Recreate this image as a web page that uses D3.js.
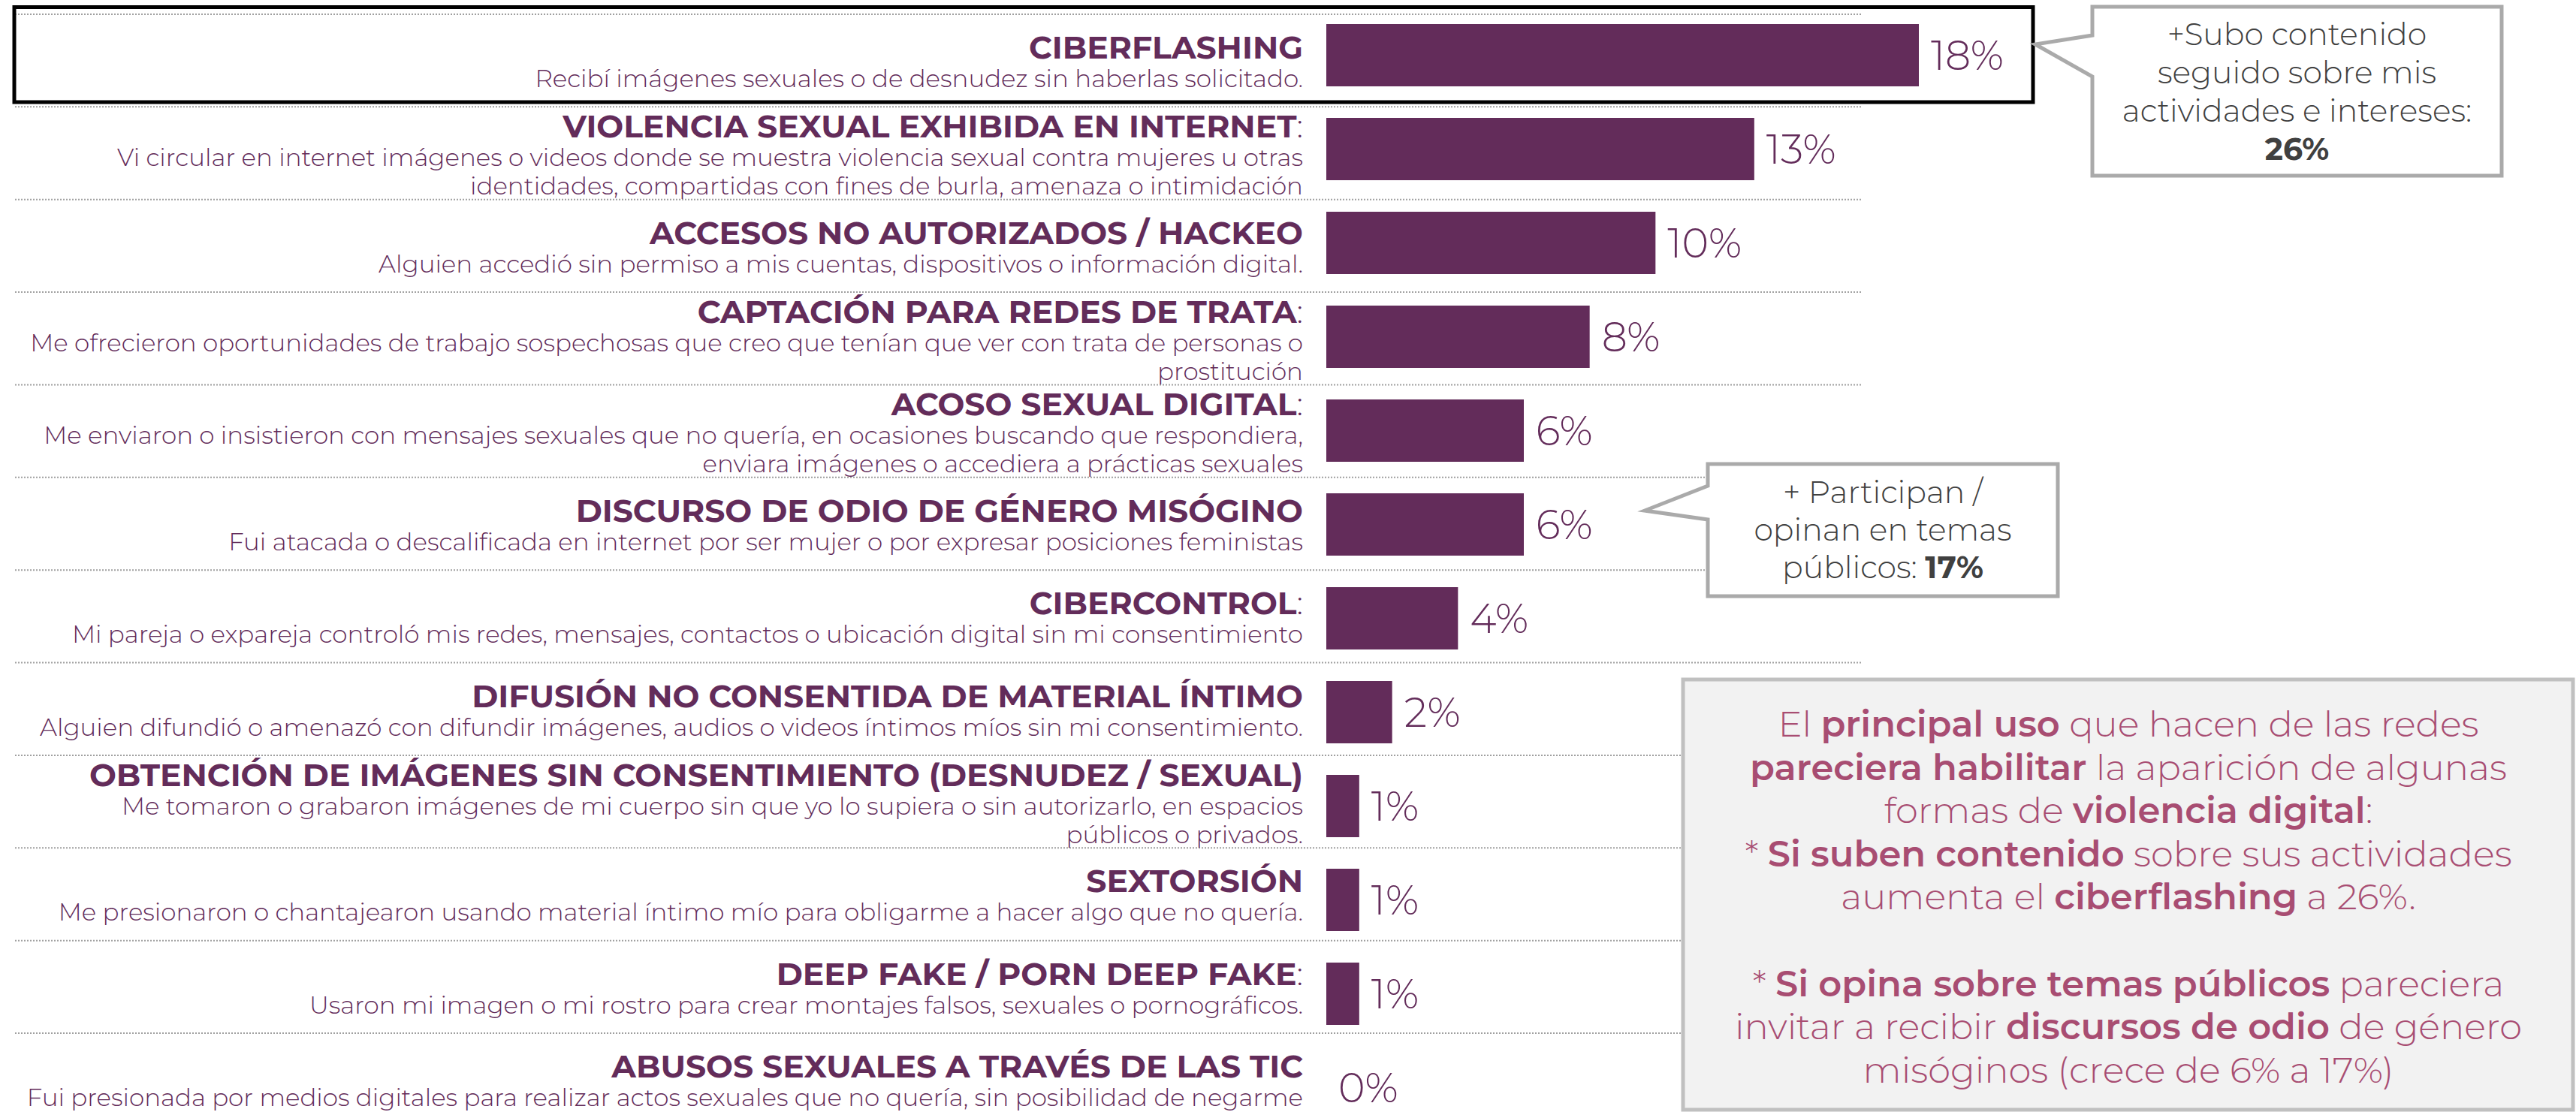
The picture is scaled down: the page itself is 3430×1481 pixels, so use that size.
<!DOCTYPE html>
<html>
<head>
<meta charset="utf-8">
<script src="https://cdn.jsdelivr.net/npm/d3@7"></script>
<style>
  html, body { margin: 0; padding: 0; background: #fff; }
  svg { display: block; font-family: Montserrat, Inter, "Open Sans", sans-serif; }
</style>
</head>
<body>
<svg id="chart" width="3430" height="1481"></svg>
<script>
// categories (title ending in ":" gets a light colon)
var categories = [
  "CIBERFLASHING",
  "VIOLENCIA SEXUAL EXHIBIDA EN INTERNET:",
  "ACCESOS NO AUTORIZADOS / HACKEO",
  "CAPTACIÓN PARA REDES DE TRATA:",
  "ACOSO SEXUAL DIGITAL:",
  "DISCURSO DE ODIO DE GÉNERO MISÓGINO",
  "CIBERCONTROL:",
  "DIFUSIÓN NO CONSENTIDA DE MATERIAL ÍNTIMO",
  "OBTENCIÓN DE IMÁGENES SIN CONSENTIMIENTO (DESNUDEZ / SEXUAL)",
  "SEXTORSIÓN",
  "DEEP FAKE / PORN DEEP FAKE:",
  "ABUSOS SEXUALES A TRAVÉS DE LAS TIC"
];

var descriptions = [
  ["Recibí imágenes sexuales o de desnudez sin haberlas solicitado."],
  ["Vi circular en internet imágenes o videos donde se muestra violencia sexual contra mujeres u otras",
   "identidades, compartidas con fines de burla, amenaza o intimidación"],
  ["Alguien accedió sin permiso a mis cuentas, dispositivos o información digital."],
  ["Me ofrecieron oportunidades de trabajo sospechosas que creo que tenían que ver con trata de personas o",
   "prostitución"],
  ["Me enviaron o insistieron con mensajes sexuales que no quería, en ocasiones buscando que respondiera,",
   "enviara imágenes o accediera a prácticas sexuales"],
  ["Fui atacada o descalificada en internet por ser mujer o por expresar posiciones feministas"],
  ["Mi pareja o expareja controló mis redes, mensajes, contactos o ubicación digital sin mi consentimiento"],
  ["Alguien difundió o amenazó con difundir imágenes, audios o videos íntimos míos sin mi consentimiento."],
  ["Me tomaron o grabaron imágenes de mi cuerpo sin que yo lo supiera o sin autorizarlo, en espacios",
   "públicos o privados."],
  ["Me presionaron o chantajearon usando material íntimo mío para obligarme a hacer algo que no quería."],
  ["Usaron mi imagen o mi rostro para crear montajes falsos, sexuales o pornográficos."],
  ["Fui presionada por medios digitales para realizar actos sexuales que no quería, sin posibilidad de negarme"]
];

var values = [18, 13, 10, 8, 6, 6, 4, 2, 1, 1, 1, 0];

var calloutContent = ["+Subo contenido", "seguido sobre mis", "actividades e intereses:", "**26%**"];
var calloutPublic = ["+ Participan /", "opinan en temas", "públicos: **17%**"];

var noteLines = [
  "El **principal uso** que hacen de las redes",
  "**pareciera habilitar** la aparición de algunas",
  "formas de **violencia digital**:",
  "* **Si suben contenido** sobre sus actividades",
  "aumenta el **ciberflashing** a 26%.",
  "",
  "* **Si opina sobre temas públicos** pareciera",
  "invitar a recibir **discursos de odio** de género",
  "misóginos (crece de 6% a 17%)"
];

var purple = "#632c5a";
var svg = d3.select("#chart");

var x = d3.scaleLinear().domain([0, 18]).range([1766, 2555]);
var y = d3.scaleBand().domain(categories).range([11, 1511]).paddingInner(0.336).paddingOuter(0.168);
// text rows sit on a slightly tighter grid than the bars
var rowTop = d3.scaleLinear().domain([0, categories.length - 1]).range([19, 1376]);

// rich text helper: **bold** segments
function addRich(textSel, str, boldWeight, normalWeight) {
  str.split("**").forEach(function(part, i) {
    if (part === "") return;
    textSel.append("tspan")
      .attr("font-weight", i % 2 ? boldWeight : normalWeight)
      .text(part);
  });
}

// separators
svg.append("g").selectAll("line")
  .data(categories)
  .enter().append("line")
  .attr("x1", 20).attr("x2", 2480)
  .attr("y1", function(d, i) { return rowTop(i); })
  .attr("y2", function(d, i) { return rowTop(i); })
  .attr("stroke", "#a0a0a0")
  .attr("stroke-width", 2)
  .attr("stroke-dasharray", "2,2");

// highlight box round the first row
svg.append("rect")
  .attr("x", 19).attr("y", 9.5).attr("width", 2688).attr("height", 126.5)
  .attr("fill", "none").attr("stroke", "#000").attr("stroke-width", 5);

// bars
svg.append("g").selectAll("rect")
  .data(values)
  .enter().append("rect")
  .attr("x", x(0))
  .attr("y", function(d, i) { return y(categories[i]); })
  .attr("width", function(d) { return x(d) - x(0); })
  .attr("height", y.bandwidth())
  .attr("fill", purple);

// value labels
svg.append("g").selectAll("text")
  .data(values)
  .enter().append("text")
  .attr("x", function(d) { return x(d) + 16; })
  .attr("y", function(d, i) { return y(categories[i]) + y.bandwidth() / 2 + 19; })
  .attr("fill", purple)
  .attr("font-size", 54)
  .attr("font-weight", 300)
  .text(function(d) { return d + "%"; });

// row labels
var rows = svg.append("g").selectAll("g")
  .data(categories)
  .enter().append("g");

rows.each(function(cat, i) {
  var g = d3.select(this);
  var lines = descriptions[i];
  var ty = rowTop(i) + 59 - (lines.length > 1 ? 18 : 0);
  var t = g.append("text")
    .attr("x", 1735).attr("y", ty)
    .attr("text-anchor", "end")
    .attr("fill", purple)
    .attr("font-size", 42.5);
  if (cat.slice(-1) === ":") {
    t.append("tspan").attr("font-weight", 700).text(cat.slice(0, -1));
    t.append("tspan").attr("font-weight", 300).text(":");
  } else {
    t.append("tspan").attr("font-weight", 700).text(cat);
  }
  lines.forEach(function(line, k) {
    g.append("text")
      .attr("x", 1735).attr("y", ty + 38 + k * 38)
      .attr("text-anchor", "end")
      .attr("fill", purple)
      .attr("font-size", 32.5)
      .attr("font-weight", 300)
      .text(line);
  });
});

// speech-bubble callouts
function callout(bx, by, bw, bh, tip, lines, cy0, lh) {
  var g = svg.append("g");
  var path = d3.path();
  path.moveTo(bx, by);
  path.lineTo(bx + bw, by);
  path.lineTo(bx + bw, by + bh);
  path.lineTo(bx, by + bh);
  path.lineTo(bx, tip[3]);
  path.lineTo(tip[0], tip[1]);
  path.lineTo(bx, tip[2]);
  path.closePath();
  g.append("path")
    .attr("d", path.toString())
    .attr("fill", "#fff")
    .attr("stroke", "#aaaaaa")
    .attr("stroke-width", 5)
    .attr("stroke-linejoin", "miter");
  lines.forEach(function(line, k) {
    var t = g.append("text")
      .attr("x", bx + bw / 2).attr("y", cy0 + k * lh)
      .attr("text-anchor", "middle")
      .attr("fill", "#404040")
      .attr("font-size", 41);
    addRich(t, line, 700, 300);
  });
}

// tip: [tipX, tipY, topY, bottomY]
callout(2786, 9, 545, 225, [2710, 59, 47, 102], calloutContent, 60, 51);
callout(2274, 618, 466, 176, [2190, 680, 647, 692], calloutPublic, 670, 50);

// conclusions box
var note = svg.append("g");
note.append("rect")
  .attr("x", 2241).attr("y", 905).attr("width", 1185).attr("height", 573)
  .attr("fill", "#f2f2f2").attr("stroke", "#c0c0c0").attr("stroke-width", 5);
noteLines.forEach(function(line, k) {
  var t = note.append("text")
    .attr("x", 2834).attr("y", 981 + k * 57.6)
    .attr("text-anchor", "middle")
    .attr("fill", "#a84d72")
    .attr("font-size", 48);
  addRich(t, line, 600, 300);
});
</script>
</body>
</html>
